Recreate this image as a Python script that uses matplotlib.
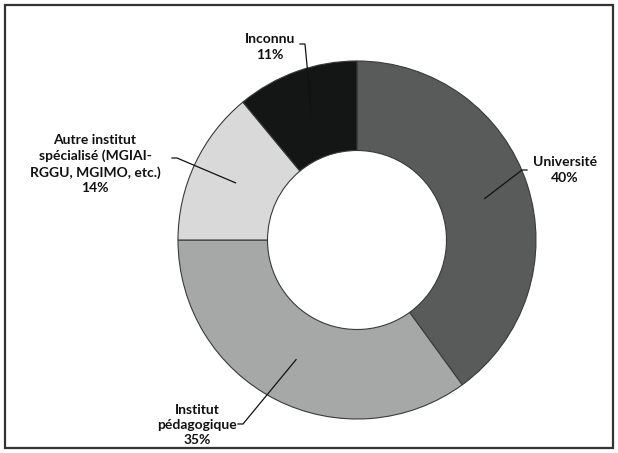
import numpy as np
import matplotlib
matplotlib.use("Agg")
import matplotlib.pyplot as plt
from matplotlib.patches import Rectangle

plt.rcParams["font.family"] = ["Lato", "DejaVu Sans"]

categories = ["Université", "Institut\npédagogique",
              "Autre institut\nspécialisé (MGIAI-\nRGGU, MGIMO, etc.)", "Inconnu"]
shares = [40, 35, 14, 11]
colors = ["#595b5b", "#a6a8a8", "#d9d9d9", "#141616"]

# label text anchor (pixels, top-left origin) and leader-line elbow side
label_pos = [(565, 170), (197, 425), (95, 164), (270, 47)]
elbow = [(527, 170), (238, 424), (172, 158), (300, 44)]

W, H = 618, 453
fig = plt.figure(figsize=(W / 100, H / 100), dpi=100)
ax = fig.add_axes([0, 0, 1, 1])

cx, cy, R = 357, H - 240, 179
wedges, _ = ax.pie(shares, colors=colors, startangle=90, counterclock=False,
                   radius=R, center=(cx, cy), frame=True,
                   wedgeprops=dict(width=R * 0.5, edgecolor="#3a3a3a", linewidth=0.8))
ax.set_xlim(0, W)
ax.set_ylim(0, H)
ax.set_aspect("equal")
ax.axis("off")

for w, cat, val, (lx, ly), (ex, ey) in zip(wedges, categories, shares, label_pos, elbow):
    ang = np.deg2rad((w.theta1 + w.theta2) / 2)
    px, py = cx + 0.75 * R * np.cos(ang), cy + 0.75 * R * np.sin(ang)
    ey = H - ey
    ex2 = ex + (5 if px > ex else -5)
    ax.plot([ex, ex2, px], [ey, ey, py], color="#111111", lw=0.9,
            solid_joinstyle="miter")
    ax.text(lx, H - ly, f"{cat}\n{val}%", ha="center", va="center",
            fontsize=10, fontweight="bold", color="#111111", linespacing=1.35)

fig.patches.append(Rectangle((5, 5), W - 10, H - 10, transform=None,
                             fill=False, edgecolor="#333333", linewidth=1.6))

fig.savefig("out.png", dpi=100)
